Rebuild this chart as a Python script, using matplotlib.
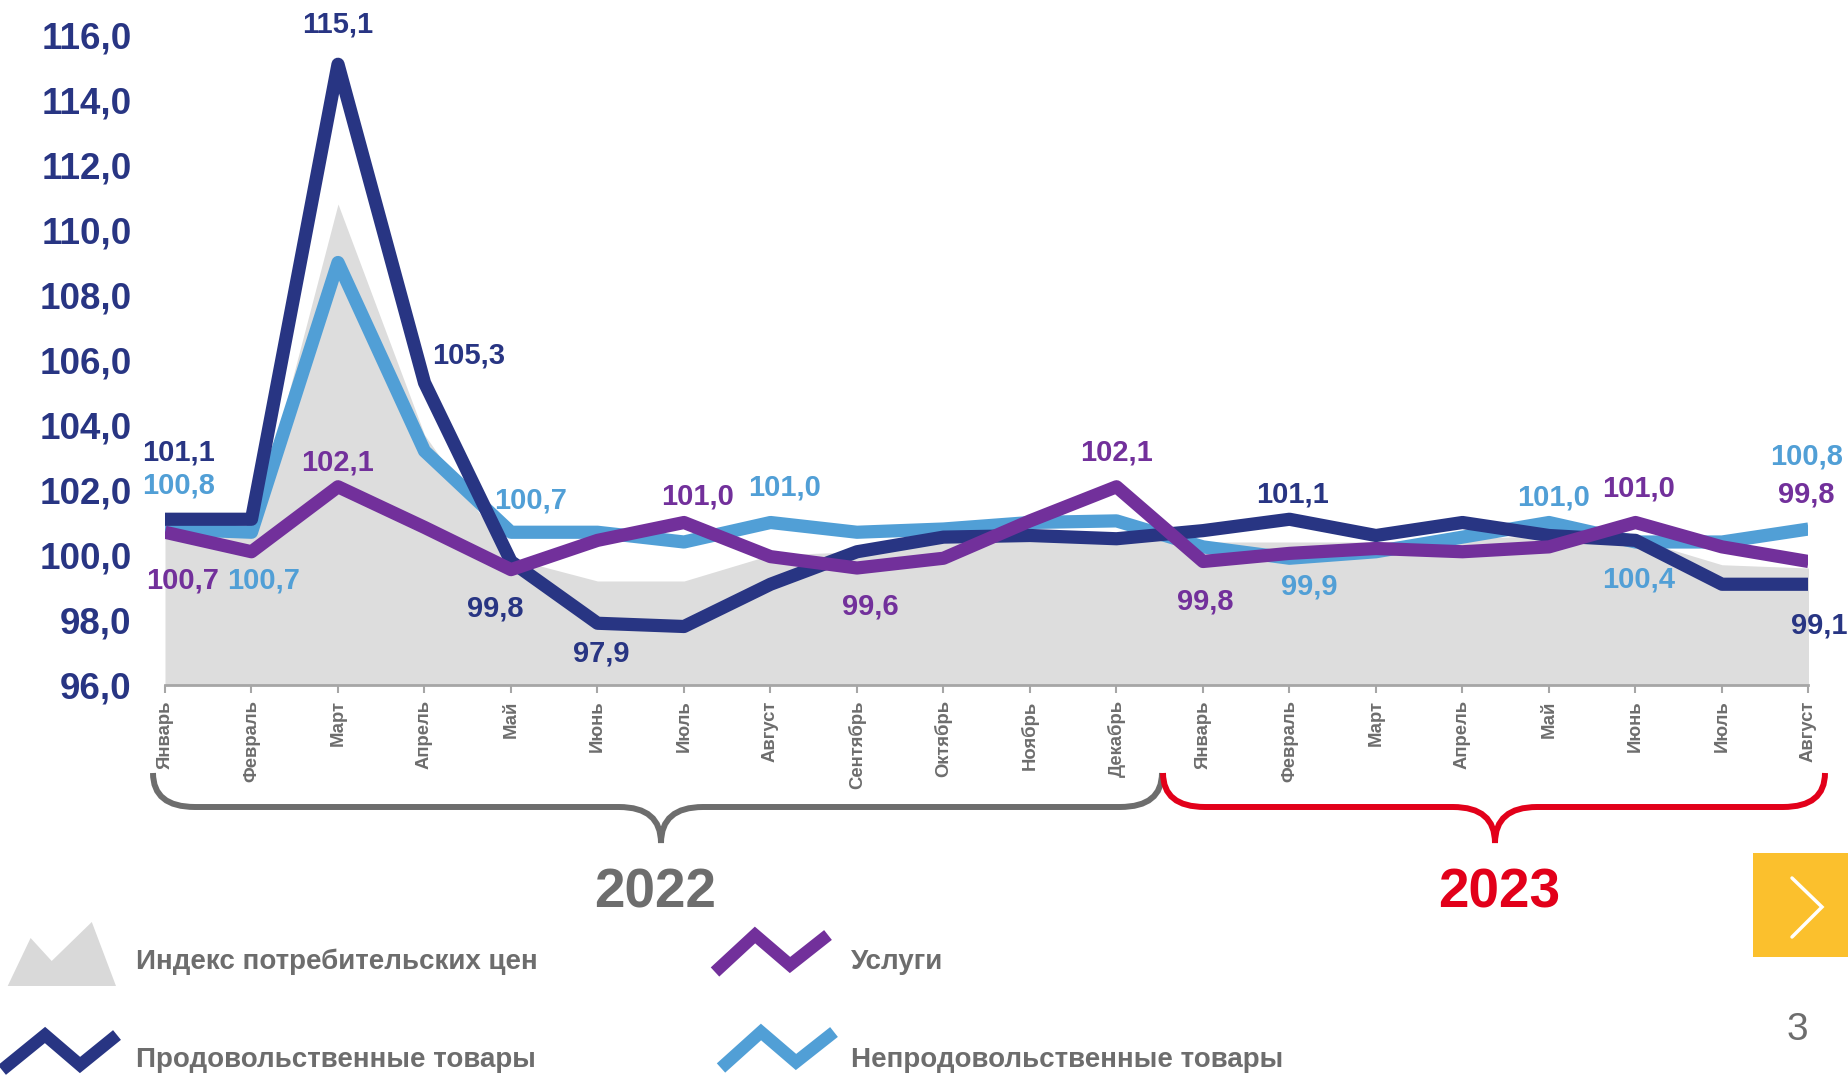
import numpy as np
import matplotlib
matplotlib.use("Agg")
import matplotlib.pyplot as plt
from matplotlib.path import Path
from matplotlib.patches import PathPatch, Polygon, Rectangle
from matplotlib.lines import Line2D

plt.rcParams['font.family'] = ['Liberation Sans', 'DejaVu Sans']

# ---- data -----------------------------------------------------------------
months = ["Январь", "Февраль", "Март", "Апрель", "Май", "Июнь", "Июль", "Август",
          "Сентябрь", "Октябрь", "Ноябрь", "Декабрь",
          "Январь", "Февраль", "Март", "Апрель", "Май", "Июнь", "Июль", "Август"]

cpi = [100.9, 100.6, 110.8, 103.7, 99.9, 99.2, 99.2, 100.0, 100.1, 100.5, 100.6, 100.5,
       100.4, 100.4, 100.4, 100.5, 100.6, 100.5, 99.7, 99.6]
food = [101.1, 101.1, 115.1, 105.3, 99.8, 97.9, 97.8, 99.1, 100.1, 100.55, 100.6, 100.5,
        100.75, 101.1, 100.6, 101.0, 100.6, 100.45, 99.1, 99.1]
nonfood = [100.8, 100.7, 109.0, 103.2, 100.7, 100.7, 100.4, 101.0, 100.7, 100.8, 101.0, 101.05,
           100.25, 99.9, 100.1, 100.55, 101.0, 100.4, 100.4, 100.8]
services = [100.7, 100.1, 102.1, 100.85, 99.55, 100.45, 101.0, 99.95, 99.6, 99.9, 101.05, 102.1,
            99.8, 100.05, 100.2, 100.1, 100.25, 101.0, 100.25, 99.8]

legend_names = ["Индекс потребительских цен", "Услуги",
                "Продовольственные товары", "Непродовольственные товары"]
years = ["2022", "2023"]

# labelled points: (month index, dx px, dy px in picture coords)
food_labels = [(0, 14, -67), (2, 0, -40), (3, 44, -27), (4, -16, 47), (5, 4, 30),
               (13, 3, -25), (19, 11, 41)]
nonfood_labels = [(0, 14, -44), (1, 12, 48), (4, 20, -32), (7, 14, -35), (13, 20, 28),
                  (16, 5, -25), (17, 3, 37), (19, -2, -73)]
services_labels = [(0, 18, 48), (2, 0, -24), (6, 14, -26), (8, 13, 38), (11, 0, -34),
                   (12, 2, 40), (17, 3, -34), (19, -2, -67)]

# ---- style ----------------------------------------------------------------
NAVY = "#283583"
BLUE = "#519FD6"
PURPLE = "#72309B"
GREYFILL = "#DDDDDD"
TEXTGREY = "#6D6D6D"
RED = "#E2001A"
YELLOW = "#FBC02D"

W, H = 1849, 1076
fig = plt.figure(figsize=(W / 100, H / 100), dpi=100)


def fx(x):
    return x / W


def fy(y):
    return 1 - y / H


ax = fig.add_axes([fx(165), fy(685), (1808.5 - 165) / W, 650 / H])
x = np.arange(len(months))

ax.fill_between(x, 96, cpi, color=GREYFILL, lw=0, zorder=1)
lw = 9.5
ax.plot(x, nonfood, color=BLUE, lw=lw, solid_joinstyle='round', solid_capstyle='butt', zorder=2)
ax.plot(x, food, color=NAVY, lw=lw, solid_joinstyle='round', solid_capstyle='butt', zorder=3)
ax.plot(x, services, color=PURPLE, lw=lw, solid_joinstyle='round', solid_capstyle='butt', zorder=4)

ax.set_xlim(0, len(months) - 1)
ax.set_ylim(96, 116)

yt = np.arange(96, 117, 2)
ax.set_yticks(yt)
ax.set_yticklabels([f"{v:.1f}".replace(".", ",") for v in yt],
                   fontsize=26.5, fontweight='bold', color=NAVY)
ax.tick_params(axis='y', length=0, pad=24)

ax.set_xticks(x)
ax.set_xticklabels(months, rotation=90, fontsize=13.3, fontweight='bold', color=TEXTGREY)
ax.tick_params(axis='x', length=6, width=1.5, color="#A6A6A6", pad=5)

for s in ["top", "right", "left"]:
    ax.spines[s].set_visible(False)
ax.spines["bottom"].set_color("#A6A6A6")
ax.spines["bottom"].set_linewidth(2)
ax.spines["bottom"].set_zorder(5)


def put_labels(values, items, color):
    for i, dx, dy in items:
        ax.annotate(f"{values[i]:.1f}".replace(".", ","), (x[i], values[i]),
                    xytext=(dx, -dy), textcoords='offset pixels',
                    ha='center', va='center', fontsize=21, fontweight='bold',
                    color=color, annotation_clip=False, zorder=6)


put_labels(food, food_labels, NAVY)
put_labels(nonfood, nonfood_labels, BLUE)
put_labels(services, services_labels, PURPLE)


# ---- braces and years -----------------------------------------------------
def brace(x0, x1, xm, ytop, ymid, ytip, color):
    r = 42
    pts = [(x0, ytop), (x0, ymid), (x0 + r, ymid),
           (xm - r, ymid), (xm, ymid), (xm, ytip),
           (xm, ymid), (xm + r, ymid),
           (x1 - r, ymid), (x1, ymid), (x1, ytop)]
    codes = [Path.MOVETO, Path.CURVE3, Path.CURVE3,
             Path.LINETO, Path.CURVE3, Path.CURVE3,
             Path.CURVE3, Path.CURVE3,
             Path.LINETO, Path.CURVE3, Path.CURVE3]
    verts = [(fx(a), fy(b)) for a, b in pts]
    fig.patches.append(PathPatch(Path(verts, codes), transform=fig.transFigure,
                                 fill=False, edgecolor=color, lw=4.3,
                                 capstyle='butt', joinstyle='miter'))


brace(153, 1162, 661, 773, 807, 843, TEXTGREY)
brace(1163, 1825, 1495, 773, 807, 843, RED)

fig.text(fx(655), fy(893), years[0], ha='center', va='center', fontsize=39.5,
         fontweight='bold', color=TEXTGREY)
fig.text(fx(1499), fy(893), years[1], ha='center', va='center', fontsize=39.5,
         fontweight='bold', color=RED)

# ---- legend ---------------------------------------------------------------
mountain = [(7.7, 986), (30.6, 938), (51.7, 961), (91.8, 922), (116, 986)]
fig.patches.append(Polygon([(fx(a), fy(b)) for a, b in mountain], closed=True,
                           transform=fig.transFigure, facecolor="#D9D9D9", lw=0))


def zigzag(pts, color):
    fig.lines.append(Line2D([fx(a) for a, b in pts], [fy(b) for a, b in pts],
                            transform=fig.transFigure, color=color, lw=9,
                            solid_joinstyle='miter', solid_capstyle='butt'))


zigzag([(2, 1070), (45, 1035), (80, 1065), (117, 1035)], NAVY)
zigzag([(715, 972), (755, 935), (790, 965), (828, 935)], PURPLE)
zigzag([(721, 1068), (761, 1032), (796, 1062), (834, 1032)], BLUE)

leg_pos = [(136, 962), (851, 962), (136, 1060), (851, 1060)]
for (lx, ly), name in zip(leg_pos, legend_names):
    fig.text(fx(lx), fy(ly), name, ha='left', va='center', fontsize=20,
             fontweight='bold', color=TEXTGREY)

# ---- navigation box and page number ---------------------------------------
fig.patches.append(Rectangle((fx(1753), fy(957)), (W - 1753) / W, 104 / H,
                             transform=fig.transFigure, facecolor=YELLOW, lw=0))
fig.lines.append(Line2D([fx(1792), fx(1822), fx(1792)], [fy(878), fy(907), fy(937)],
                        transform=fig.transFigure, color="white", lw=2.5,
                        solid_capstyle='round', solid_joinstyle='miter'))
fig.text(fx(1797), fy(1030), "3", ha='center', va='center', fontsize=28, color=TEXTGREY)

fig.savefig("out.png", dpi=100)
